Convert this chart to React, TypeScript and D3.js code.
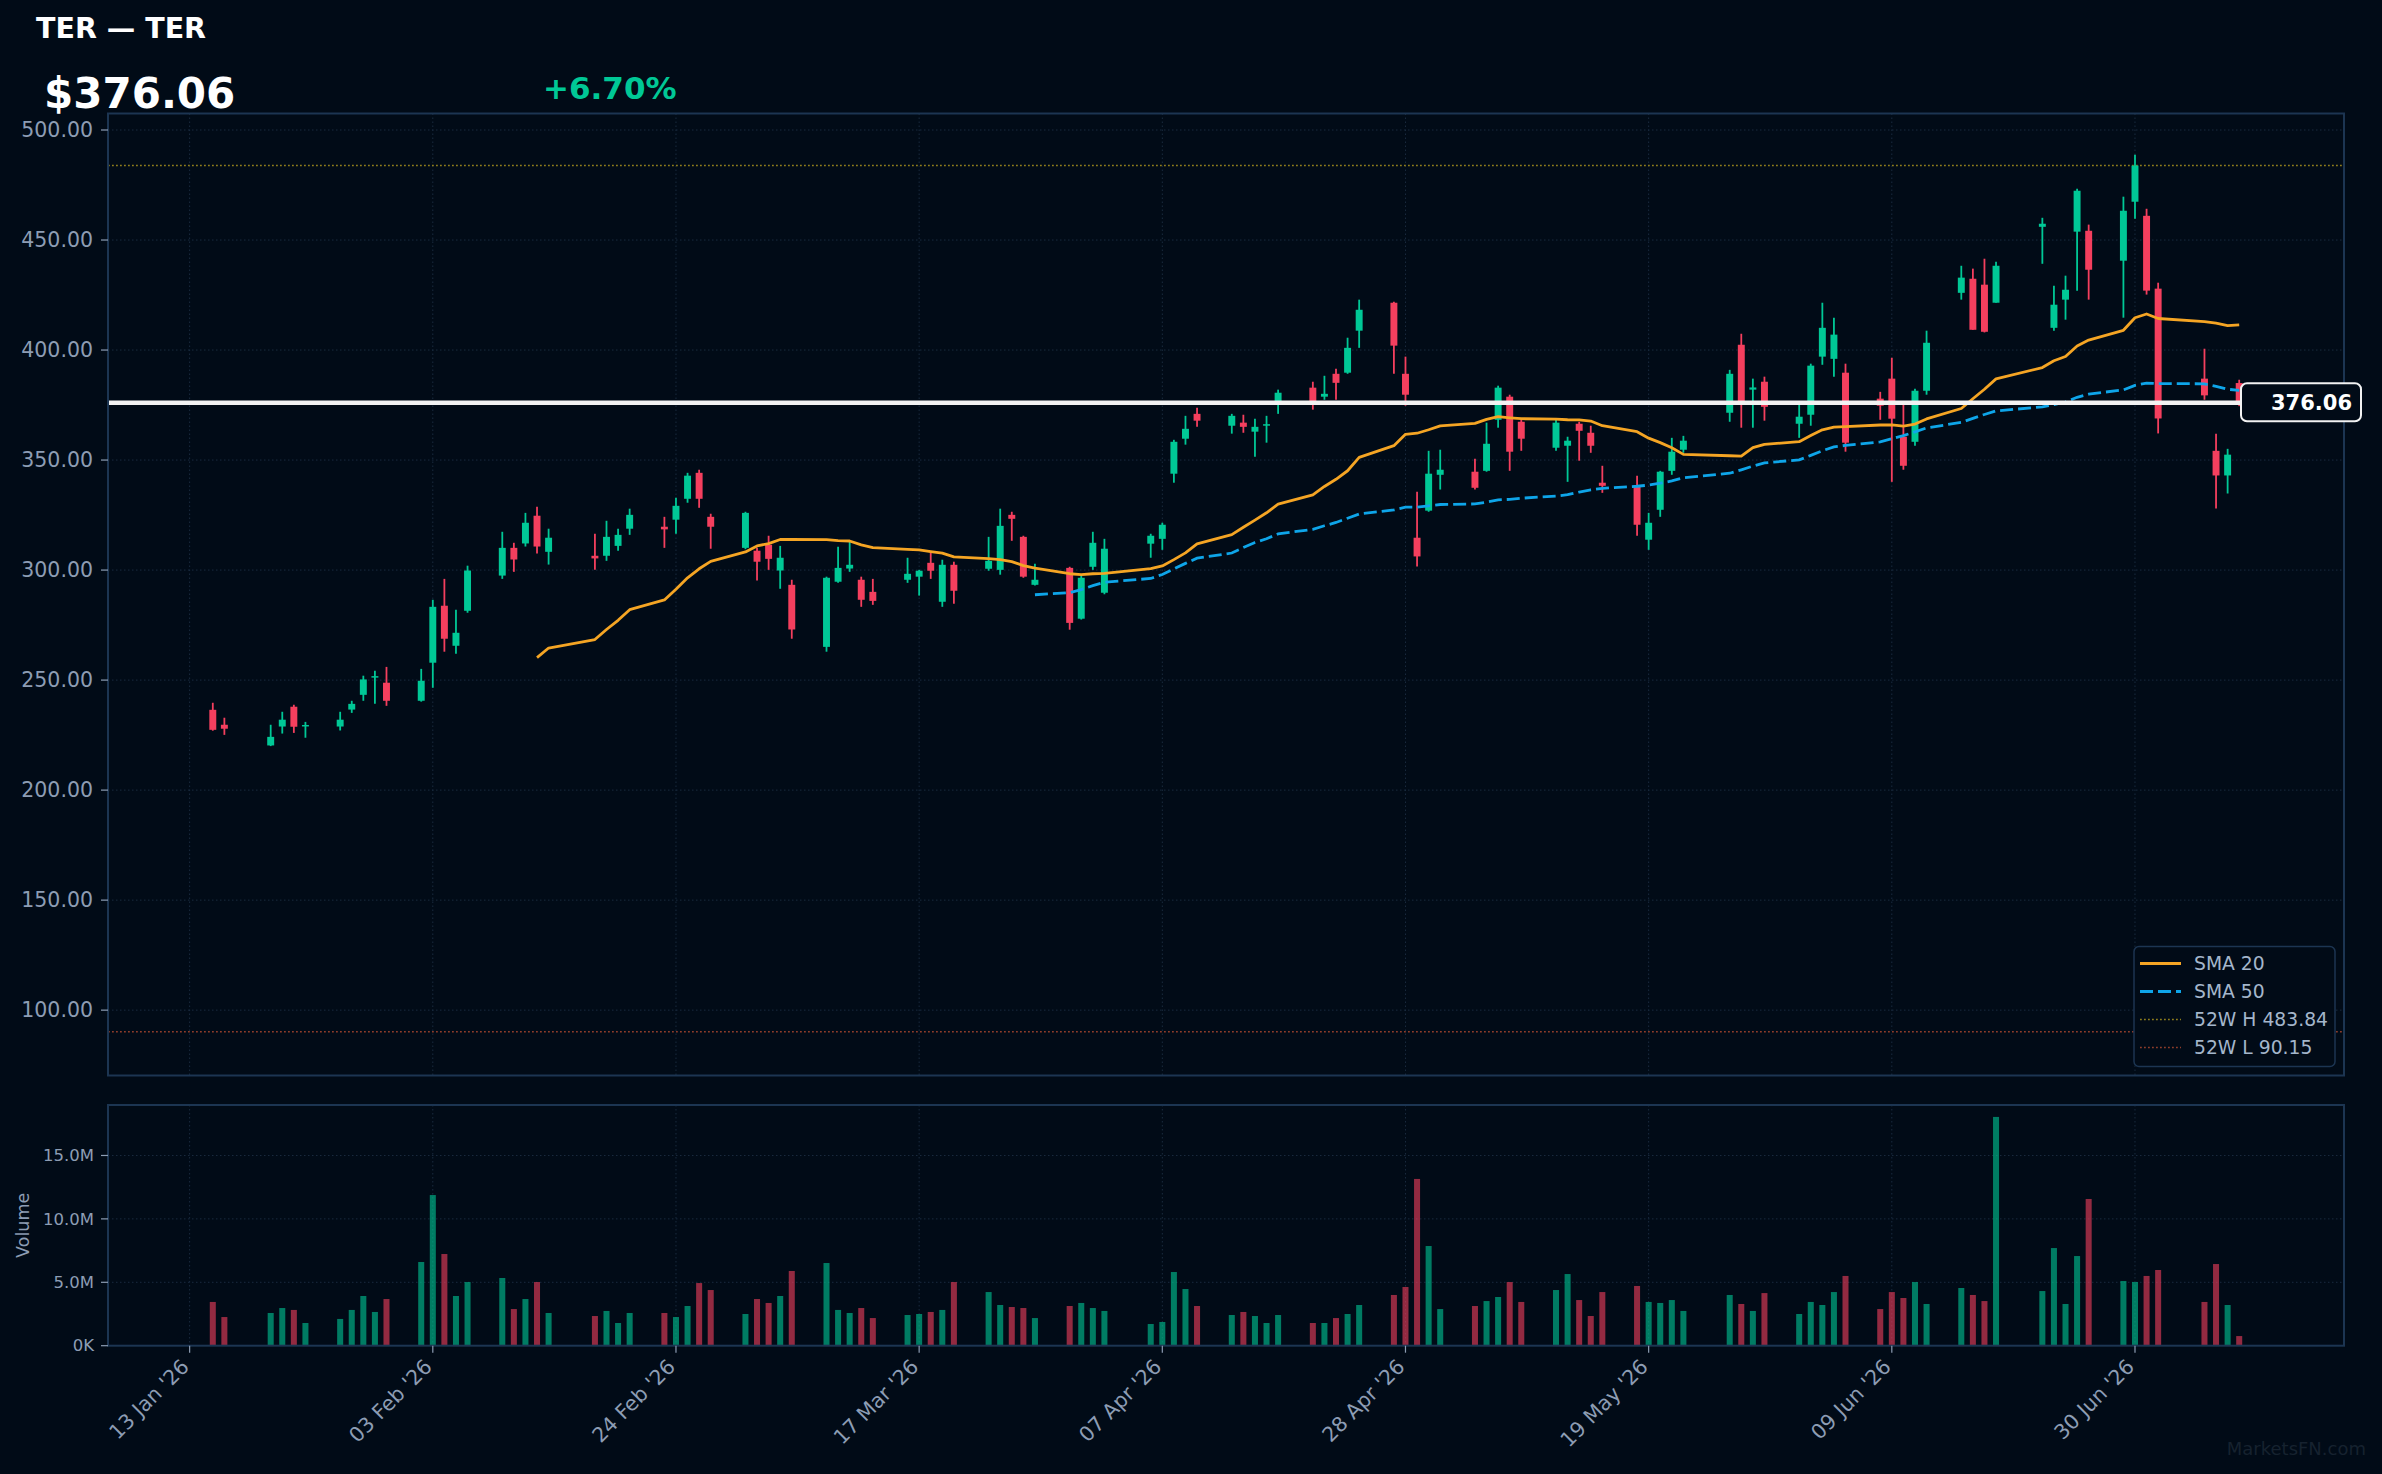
import React from 'react';
import * as d3 from 'd3';

// trading days shown on the chart
const dates = [
  '2026-01-15', '2026-01-16', '2026-01-20', '2026-01-21', '2026-01-22', '2026-01-23', '2026-01-26', '2026-01-27', '2026-01-28', '2026-01-29', '2026-01-30',
  '2026-02-02', '2026-02-03', '2026-02-04', '2026-02-05', '2026-02-06', '2026-02-09', '2026-02-10', '2026-02-11', '2026-02-12', '2026-02-13',
  '2026-02-17', '2026-02-18', '2026-02-19', '2026-02-20', '2026-02-23', '2026-02-24', '2026-02-25', '2026-02-26', '2026-02-27',
  '2026-03-02', '2026-03-03', '2026-03-04', '2026-03-05', '2026-03-06', '2026-03-09', '2026-03-10', '2026-03-11', '2026-03-12', '2026-03-13',
  '2026-03-16', '2026-03-17', '2026-03-18', '2026-03-19', '2026-03-20', '2026-03-23', '2026-03-24', '2026-03-25', '2026-03-26', '2026-03-27',
  '2026-03-30', '2026-03-31', '2026-04-01', '2026-04-02', '2026-04-06', '2026-04-07', '2026-04-08', '2026-04-09', '2026-04-10',
  '2026-04-13', '2026-04-14', '2026-04-15', '2026-04-16', '2026-04-17', '2026-04-20', '2026-04-21', '2026-04-22', '2026-04-23', '2026-04-24',
  '2026-04-27', '2026-04-28', '2026-04-29', '2026-04-30', '2026-05-01', '2026-05-04', '2026-05-05', '2026-05-06', '2026-05-07', '2026-05-08',
  '2026-05-11', '2026-05-12', '2026-05-13', '2026-05-14', '2026-05-15', '2026-05-18', '2026-05-19', '2026-05-20', '2026-05-21', '2026-05-22',
  '2026-05-26', '2026-05-27', '2026-05-28', '2026-05-29', '2026-06-01', '2026-06-02', '2026-06-03', '2026-06-04', '2026-06-05',
  '2026-06-08', '2026-06-09', '2026-06-10', '2026-06-11', '2026-06-12', '2026-06-15', '2026-06-16', '2026-06-17', '2026-06-18',
  '2026-06-22', '2026-06-23', '2026-06-24', '2026-06-25', '2026-06-26', '2026-06-29', '2026-06-30',
  '2026-07-01', '2026-07-02', '2026-07-06', '2026-07-07', '2026-07-08', '2026-07-09',
];

const opens = [
  236.5, 229.7, 220.3, 228.9, 237.9, 229.0, 228.9, 236.6, 243.3, 251.2, 248.8,
  240.6, 257.9, 283.8, 265.6, 281.5, 297.5, 310.1, 312.1, 324.7, 308.3, 306.5, 306.5, 311.0, 318.8, 319.7, 322.9, 332.4, 344.2, 324.2,
  310.1, 308.8, 311.5, 299.8, 293.3, 265.1, 294.7, 300.7, 295.6, 290.1, 295.6, 297.0, 303.3, 285.6, 302.4, 300.6, 300.1, 325.1, 315.1, 293.3, 301.0, 277.9,
  301.5, 289.7, 312.0, 314.2, 343.8, 359.7, 371.0, 365.6, 367.0, 362.9, 366.0, 375.6, 382.9, 378.8, 389.2, 389.7, 408.8, 421.5, 389.2, 314.7, 327.0,
  343.3, 344.7, 345.1, 368.3, 378.8, 367.4, 355.6, 356.5, 366.5, 362.4, 339.7, 338.3, 313.8, 327.4, 345.1, 354.7, 371.5, 402.4, 382.0, 385.6,
  366.5, 370.6, 397.0, 396.0, 389.7, 377.9, 387.0, 360.6, 358.3, 381.5, 426.0, 432.4, 429.7, 421.5, 456.0, 410.1, 422.9, 453.8, 454.2, 440.6, 467.4,
  461.0, 427.9, 387.0, 354.2, 343.0, 385.0,
];

const highs = [
  239.7, 232.9, 229.7, 235.6, 238.8, 231.0, 235.6, 240.6, 252.0, 254.2, 256.0,
  255.1, 286.5, 296.0, 282.0, 302.0, 317.4, 312.4, 326.0, 328.8, 318.8, 316.5, 322.4, 318.8, 327.9, 324.2, 332.9, 344.2, 345.6, 325.6,
  326.5, 310.1, 315.6, 311.0, 295.6, 297.0, 310.6, 312.9, 297.0, 296.0, 305.6, 300.1, 308.0, 304.7, 303.8, 315.1, 327.9, 326.5, 315.6, 302.9, 301.5, 297.4,
  317.4, 314.2, 316.5, 321.5, 359.2, 370.1, 373.8, 371.0, 370.6, 368.8, 370.1, 382.0, 385.6, 388.3, 391.5, 405.6, 422.9, 422.0, 397.0, 335.6, 354.2,
  354.7, 350.6, 367.0, 383.8, 379.7, 368.3, 368.3, 360.6, 367.4, 365.6, 347.4, 342.9, 326.0, 345.1, 360.1, 361.0, 391.0, 407.4, 387.0, 387.9,
  375.1, 393.8, 421.5, 414.7, 393.8, 381.0, 396.5, 375.6, 382.4, 408.8, 438.3, 437.0, 441.5, 440.1, 460.1, 429.2, 433.8, 473.3, 457.0, 469.7, 488.8,
  464.2, 430.6, 400.6, 362.0, 355.1, 386.5,
];

const lows = [
  227.0, 225.1, 220.0, 225.7, 226.0, 223.8, 227.1, 235.1, 240.6, 239.2, 238.3,
  240.2, 246.5, 262.9, 262.0, 280.6, 296.0, 299.2, 310.7, 307.5, 302.5, 300.1, 304.2, 308.8, 316.0, 310.1, 316.5, 330.6, 328.3, 309.7,
  309.5, 295.3, 300.1, 291.5, 268.8, 262.9, 294.2, 299.2, 283.3, 284.2, 294.2, 288.4, 296.0, 283.3, 284.7, 299.7, 297.9, 313.3, 296.5, 293.0, 272.9, 277.5,
  300.1, 289.0, 305.6, 309.2, 339.7, 357.0, 365.1, 362.0, 362.4, 351.5, 357.9, 371.0, 372.9, 377.4, 377.4, 389.2, 401.0, 389.2, 374.7, 301.6, 326.5,
  336.6, 336.6, 344.7, 364.7, 345.1, 354.2, 354.2, 340.1, 349.7, 353.3, 335.1, 315.6, 309.2, 324.2, 343.3, 353.3, 367.4, 364.7, 364.7, 367.9,
  360.1, 365.6, 393.3, 387.9, 353.8, 368.3, 340.1, 345.6, 356.5, 379.7, 422.9, 409.2, 408.0, 421.5, 439.2, 408.8, 413.8, 427.0, 422.9, 414.7, 459.7,
  425.2, 362.1, 377.4, 328.0, 334.8, 374.5,
];

const closes = [
  227.4, 227.9, 224.2, 232.0, 228.8, 229.6, 232.0, 239.2, 250.3, 251.8, 240.6,
  249.7, 283.3, 268.8, 271.5, 299.8, 310.1, 304.8, 321.5, 310.7, 314.7, 305.3, 315.1, 316.0, 325.1, 318.5, 329.2, 342.9, 332.4, 319.7,
  326.0, 303.8, 305.1, 305.6, 273.0, 296.5, 301.0, 302.4, 286.5, 286.0, 298.3, 299.7, 299.7, 302.4, 290.6, 304.2, 320.1, 323.3, 297.0, 295.6, 276.0, 296.5,
  312.4, 309.7, 315.6, 320.6, 358.3, 364.2, 367.9, 370.1, 365.1, 365.1, 366.3, 380.6, 375.6, 380.1, 385.1, 401.0, 418.3, 402.0, 379.7, 306.2, 343.8,
  345.6, 337.4, 357.4, 382.9, 353.8, 359.7, 367.0, 358.8, 363.3, 356.5, 338.3, 320.6, 321.5, 344.7, 353.8, 358.8, 389.2, 376.5, 383.0, 374.2,
  369.7, 392.9, 410.1, 407.0, 357.9, 374.7, 368.8, 347.4, 381.5, 403.3, 432.9, 409.2, 408.3, 438.3, 457.4, 420.6, 427.4, 472.4, 436.5, 463.3, 483.84,
  427.0, 368.9, 379.4, 343.0, 352.45, 376.06,
];

// millions of shares
const volumes = [
  3.45, 2.26, 2.58, 2.97, 2.82, 1.79, 2.11, 2.82, 3.92, 2.66, 3.68,
  6.6, 11.88, 7.23, 3.92, 5.02, 5.34, 2.89, 3.68, 5.02, 2.58, 2.34, 2.74, 1.79, 2.58, 2.58, 2.26, 3.13, 4.94, 4.39,
  2.5, 3.68, 3.37, 3.92, 5.89, 6.52, 2.82, 2.58, 2.97, 2.18, 2.42, 2.5, 2.66, 2.82, 5.02, 4.23, 3.21, 3.05, 2.97, 2.18, 3.13, 3.37,
  2.97, 2.74, 1.71, 1.87, 5.81, 4.47, 3.13, 2.42, 2.66, 2.34, 1.79, 2.42, 1.79, 1.79, 2.18, 2.5, 3.21, 4.0, 4.63, 13.15, 7.86,
  2.89, 3.13, 3.52, 3.84, 5.02, 3.45, 4.39, 5.65, 3.6, 2.34, 4.23, 4.71, 3.45, 3.37, 3.6, 2.74, 4.0, 3.29, 2.74, 4.15,
  2.5, 3.45, 3.21, 4.23, 5.5, 2.89, 4.23, 3.76, 5.02, 3.29, 4.55, 4.0, 3.52, 18.04, 4.31, 7.7, 3.29, 7.07, 11.57, 5.1, 5.02,
  5.5, 5.97, 3.45, 6.44, 3.21, 0.76,
];

const priceTicks = [100, 150, 200, 250, 300, 350, 400, 450, 500];
const volumeTicks = [0, 5, 10, 15];
const volumeTickLabels = ['0K', '5.0M', '10.0M', '15.0M'];
const xTickDates = ['2026-01-13', '2026-02-03', '2026-02-24', '2026-03-17', '2026-04-07', '2026-04-28', '2026-05-19', '2026-06-09', '2026-06-30'];

const ticker = 'TER — TER';
const lastPrice = 376.06;
const changeText = '+6.70%';
const high52 = 483.84;
const low52 = 90.15;

const BG = '#010b17';
const UP = '#00c896';
const DOWN = '#f43f5e';
const BORDER = '#1c3552';
const GRID = '#1a2b3f';
const TICK = '#8d9db4';
const FONT = 'DejaVu Sans';

const sma = (n: number) =>
  closes.map((_, i) => (i < n - 1 ? null : d3.mean(closes.slice(i - n + 1, i + 1)) as number));

export default function App() {
  const parse = d3.utcParse('%Y-%m-%d');
  const ds = dates.map(d => parse(d) as Date);
  const day = 864e5;

  const left = 108, right = 2344;
  const pTop = 113.5, pBot = 1075.5;
  const vTop = 1105, vBot = 1345.7;

  const x = d3
    .scaleUtc()
    .domain([new Date(+ds[0] - 9.05 * day), new Date(+ds[ds.length - 1] + 9.05 * day)])
    .range([left, right]);
  const pxDay = x(new Date(+ds[0] + day)) - x(ds[0]);

  const y = d3.scaleLinear().domain([70.3, 507.5]).range([pBot, pTop]);
  const yv = d3.scaleLinear().domain([0, 18.98]).range([vBot, vTop]);

  const bodyW = pxDay * 0.6;
  const volW = pxDay * 0.52;
  const fmt = d3.utcFormat("%d %b '%y");
  const xTicks = xTickDates.map(d => parse(d) as Date);

  const sma20 = sma(20);
  const sma50 = sma(50);
  const line = d3
    .line<number | null>()
    .defined(d => d != null)
    .x((_, i) => x(ds[i]))
    .y(d => y(d as number));

  const yLast = y(lastPrice);

  const legend = [
    { label: 'SMA 20', color: '#f5a524', dash: undefined, w: 3 },
    { label: 'SMA 50', color: '#0ea5e9', dash: '13,5', w: 3 },
    { label: `52W H ${high52.toFixed(2)}`, color: '#8f7e1c', dash: '1.8,2.2', w: 1.5 },
    { label: `52W L ${low52.toFixed(2)}`, color: '#8e3d2b', dash: '1.8,2.2', w: 1.5 },
  ];

  return (
    <svg
      width={2382}
      height={1474}
      style={{ position: 'absolute', left: 0, top: 0, display: 'block', background: BG }}
      fontFamily={FONT}
    >
      <rect x={0} y={0} width={2382} height={1474} fill={BG} />

      {/* header */}
      <text x={36} y={37.5} fill="#ffffff" fontSize={28.5} fontWeight="bold">{ticker}</text>
      <text x={44} y={108} fill="#ffffff" fontSize={42} fontWeight="bold">${lastPrice.toFixed(2)}</text>
      <text x={543} y={99} fill={UP} fontSize={31} fontWeight="bold">{changeText}</text>

      {/* price panel grid */}
      <g stroke={GRID} strokeWidth={1} strokeDasharray="1.5,2.5">
        {priceTicks.map(t => (
          <line key={'pg' + t} x1={left} x2={right} y1={y(t)} y2={y(t)} />
        ))}
        {xTicks.map((t, i) => (
          <line key={'xg' + i} x1={x(t)} x2={x(t)} y1={pTop} y2={pBot} />
        ))}
        {volumeTicks.slice(1).map(t => (
          <line key={'vg' + t} x1={left} x2={right} y1={yv(t)} y2={yv(t)} />
        ))}
        {xTicks.map((t, i) => (
          <line key={'xv' + i} x1={x(t)} x2={x(t)} y1={vTop} y2={vBot} />
        ))}
      </g>

      {/* 52 week lines */}
      <line x1={left} x2={right} y1={y(high52)} y2={y(high52)} stroke="#8f7e1c" strokeWidth={1.5} strokeDasharray="1.8,2.2" />
      <line x1={left} x2={right} y1={y(low52)} y2={y(low52)} stroke="#8e3d2b" strokeWidth={1.5} strokeDasharray="1.8,2.2" />

      {/* candles */}
      <g>
        {ds.map((d, i) => {
          const up = closes[i] >= opens[i];
          const c = up ? UP : DOWN;
          const cx = x(d);
          const top = y(Math.max(opens[i], closes[i]));
          const bot = y(Math.min(opens[i], closes[i]));
          return (
            <g key={'c' + i}>
              <line x1={cx} x2={cx} y1={y(highs[i])} y2={y(lows[i])} stroke={c} strokeWidth={1.8} />
              <rect x={cx - bodyW / 2} y={top} width={bodyW} height={Math.max(bot - top, 1.5)} fill={c} />
            </g>
          );
        })}
      </g>

      {/* moving averages */}
      <path d={line(sma20) || ''} fill="none" stroke="#f5a524" strokeWidth={2.8} strokeLinejoin="round" />
      <path d={line(sma50) || ''} fill="none" stroke="#0ea5e9" strokeWidth={2.8} strokeDasharray="13,5" />

      {/* last price line */}
      <line x1={left} x2={right} y1={yLast} y2={yLast} stroke="#f2f2f2" strokeWidth={4.5} />

      {/* volume bars */}
      <g opacity={0.6}>
        {ds.map((d, i) => (
          <rect
            key={'v' + i}
            x={x(d) - volW / 2}
            y={yv(volumes[i])}
            width={volW}
            height={vBot - yv(volumes[i])}
            fill={closes[i] >= opens[i] ? UP : DOWN}
          />
        ))}
      </g>

      {/* axes frames */}
      <rect x={left} y={pTop} width={right - left} height={pBot - pTop} fill="none" stroke={BORDER} strokeWidth={2} />
      <rect x={left} y={vTop} width={right - left} height={vBot - vTop} fill="none" stroke={BORDER} strokeWidth={2} />

      {/* price y axis */}
      <g fill={TICK} fontSize={20.5} textAnchor="end">
        {priceTicks.map(t => (
          <g key={'pt' + t}>
            <line x1={left - 7} x2={left} y1={y(t)} y2={y(t)} stroke={TICK} strokeWidth={1.2} />
            <text x={93} y={y(t)} dy="0.35em">{t.toFixed(2)}</text>
          </g>
        ))}
      </g>

      {/* volume y axis */}
      <g fill={TICK} fontSize={16.5} textAnchor="end">
        {volumeTicks.map((t, i) => (
          <g key={'vt' + t}>
            <line x1={left - 7} x2={left} y1={yv(t)} y2={yv(t)} stroke={TICK} strokeWidth={1.2} />
            <text x={94} y={yv(t)} dy="0.35em">{volumeTickLabels[i]}</text>
          </g>
        ))}
      </g>
      <text
        transform={`translate(23,${(vTop + vBot) / 2}) rotate(-90)`}
        textAnchor="middle"
        dy="0.35em"
        fill={TICK}
        fontSize={17.5}
      >
        Volume
      </text>

      {/* x axis */}
      <g fill={TICK} fontSize={20.5}>
        {xTicks.map((t, i) => (
          <g key={'xt' + i}>
            <line x1={x(t)} x2={x(t)} y1={vBot} y2={vBot + 7} stroke={TICK} strokeWidth={1.2} />
            <text
              transform={`translate(${x(t) - 4.6},1363) rotate(-45)`}
              textAnchor="end"
              dy="0.35em"
            >
              {fmt(t)}
            </text>
          </g>
        ))}
      </g>

      {/* last price tag */}
      <rect x={2241} y={yLast - 19.5} width={120} height={38} rx={6} fill={BG} stroke="#f2f2f2" strokeWidth={2} />
      <text x={2352} y={yLast} dy="0.36em" textAnchor="end" fill="#ffffff" fontSize={21} fontWeight="bold">
        {lastPrice.toFixed(2)}
      </text>

      {/* legend */}
      <g>
        <rect x={2134} y={946.5} width={201} height={120} rx={5} fill={BG} stroke={BORDER} strokeWidth={1.5} />
        {legend.map((l, i) => {
          const ly = 963.5 + i * 28;
          return (
            <g key={'lg' + i}>
              <line x1={2140} x2={2181} y1={ly} y2={ly} stroke={l.color} strokeWidth={l.w} strokeDasharray={l.dash} />
              <text x={2194} y={ly} dy="0.35em" fill="#a4b6cb" fontSize={18.75}>{l.label}</text>
            </g>
          );
        })}
      </g>

      {/* watermark */}
      <text x={2366} y={1455} textAnchor="end" fill="#16222f" fontSize={18}>MarketsFN.com</text>
    </svg>
  );
}
